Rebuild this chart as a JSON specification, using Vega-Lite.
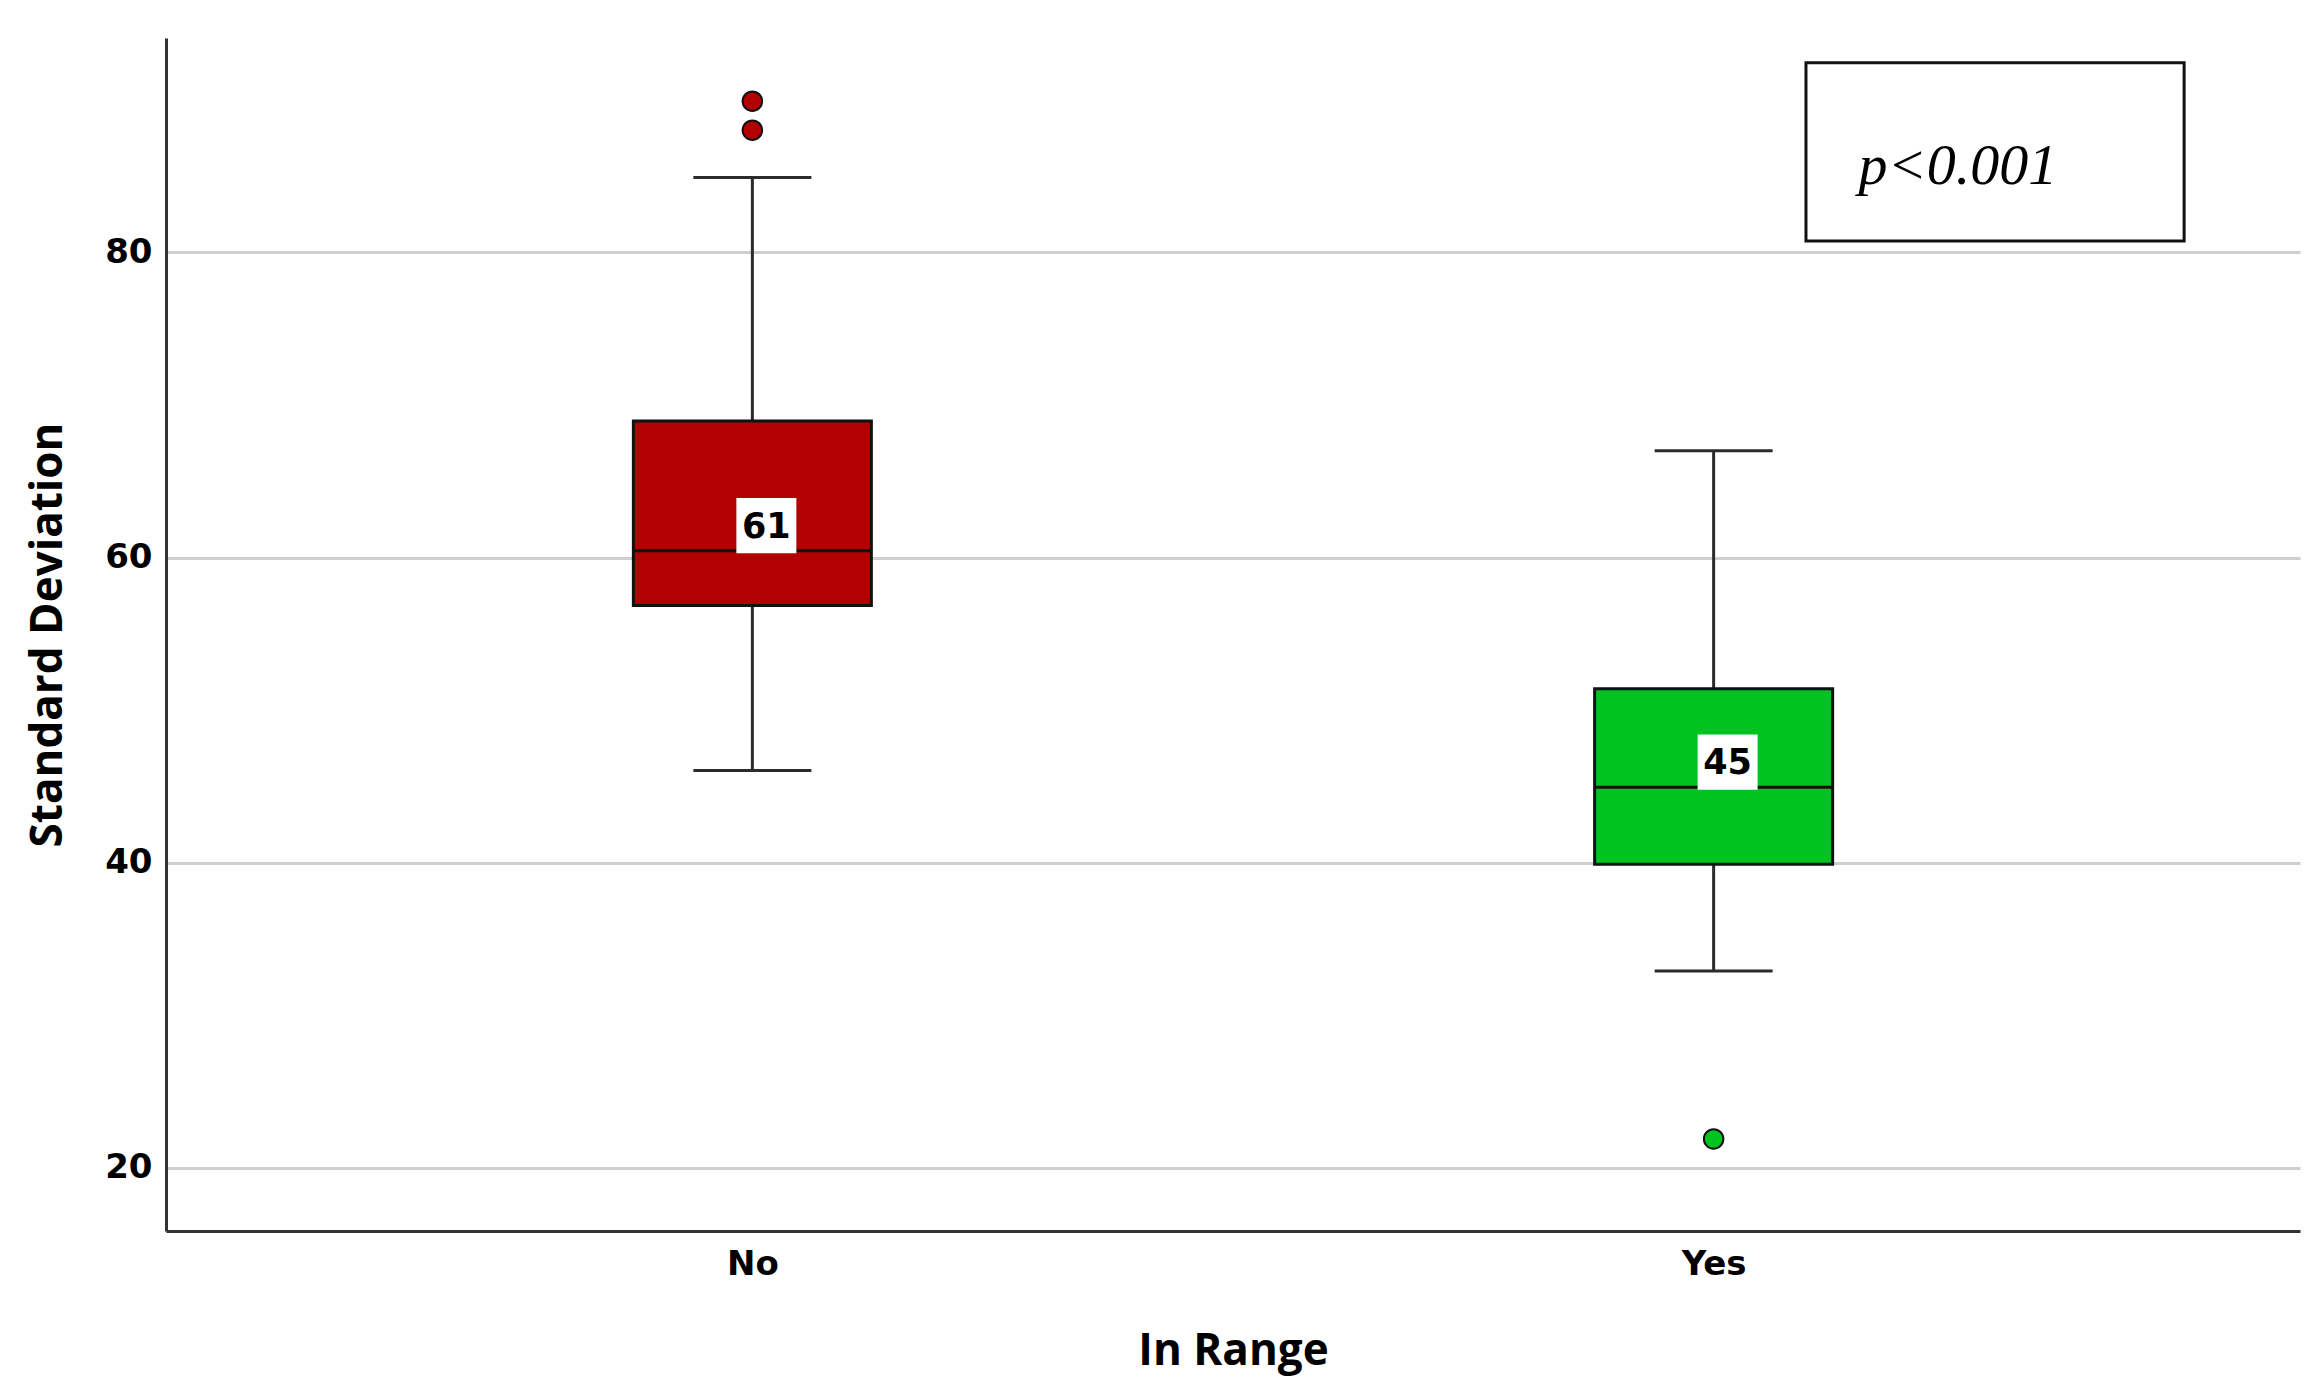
{
  "$schema": "https://vega.github.io/schema/vega-lite/v6.json",
  "width": 2134,
  "height": 1193,
  "autosize": {"type": "none"},
  "padding": {"left": 166, "top": 38, "right": 23, "bottom": 169},
  "background": "white",
  "config": {
    "view": {"stroke": null},
    "axis": {
      "domainColor": "#333333",
      "domainWidth": 3,
      "ticks": false,
      "gridColor": "#CFCFCF",
      "gridWidth": 3,
      "labelFont": "DejaVu Sans",
      "labelFontWeight": "bold",
      "labelFontSize": 34,
      "labelColor": "#000000",
      "titleFont": "Open Sans",
      "titleFontWeight": "bold",
      "titleFontSize": 44,
      "titleColor": "#000000"
    }
  },
  "datasets": {
    "stats": [
      {"group": "No", "lower": 46.05, "q1": 56.85, "median": 60.45, "q3": 68.95, "upper": 84.9, "label": "61"},
      {"group": "Yes", "lower": 32.9, "q1": 39.9, "median": 44.95, "q3": 51.4, "upper": 67.0, "label": "45"}
    ],
    "outliers": [
      {"group": "No", "value": 89.9},
      {"group": "No", "value": 88.0},
      {"group": "Yes", "value": 21.9}
    ],
    "annotation": [
      {"x1": 0.7685, "x2": 0.9457, "y1": 80.74, "y2": 92.42, "xt": 0.8397, "yt": 84.5, "text": "p<0.001"}
    ]
  },
  "layer": [
    {
      "layer": [
        {
          "data": {"name": "stats"},
          "mark": {"type": "rule", "color": "#2b2b2b", "strokeWidth": 3},
          "encoding": {
            "x": {"field": "group", "type": "nominal", "sort": ["No", "Yes"],
                  "scale": {"type": "point", "padding": 0.61},
                  "axis": {"title": "In Range", "labelAngle": 0, "labelPadding": 16, "titlePadding": 48, "grid": false}},
            "y": {"field": "lower", "type": "quantitative",
                  "scale": {"domain": [15.87, 94.04], "nice": false, "zero": false},
                  "axis": {"title": "Standard Deviation", "values": [20, 40, 60, 80], "labelPadding": 14, "titlePadding": 34, "grid": true}},
            "y2": {"field": "upper"}
          }
        },
        {
          "data": {"name": "stats"},
          "mark": {"type": "tick", "color": "#2b2b2b", "thickness": 3, "size": 118, "opacity": 1},
          "encoding": {
            "x": {"field": "group", "type": "nominal", "sort": ["No", "Yes"]},
            "y": {"field": "upper", "type": "quantitative"}
          }
        },
        {
          "data": {"name": "stats"},
          "mark": {"type": "tick", "color": "#2b2b2b", "thickness": 3, "size": 118, "opacity": 1},
          "encoding": {
            "x": {"field": "group", "type": "nominal", "sort": ["No", "Yes"]},
            "y": {"field": "lower", "type": "quantitative"}
          }
        },
        {
          "data": {"name": "stats"},
          "mark": {"type": "bar", "size": 238, "stroke": "#111111", "strokeWidth": 3, "opacity": 1},
          "encoding": {
            "x": {"field": "group", "type": "nominal", "sort": ["No", "Yes"]},
            "y": {"field": "q1", "type": "quantitative"},
            "y2": {"field": "q3"},
            "fill": {"field": "group", "type": "nominal",
                     "scale": {"domain": ["No", "Yes"], "range": ["#B30000", "#00C322"]},
                     "legend": null}
          }
        },
        {
          "data": {"name": "stats"},
          "mark": {"type": "tick", "color": "#111111", "thickness": 3, "size": 238, "opacity": 1},
          "encoding": {
            "x": {"field": "group", "type": "nominal", "sort": ["No", "Yes"]},
            "y": {"field": "median", "type": "quantitative"}
          }
        },
        {
          "data": {"name": "stats"},
          "mark": {"type": "point", "shape": "M-1,-0.92H1V0.92H-1Z", "filled": true, "color": "white", "size": 3600, "opacity": 1, "xOffset": 14, "yOffset": -25},
          "encoding": {
            "x": {"field": "group", "type": "nominal", "sort": ["No", "Yes"]},
            "y": {"field": "median", "type": "quantitative"}
          }
        },
        {
          "data": {"name": "stats"},
          "mark": {"type": "text", "font": "DejaVu Sans", "fontWeight": "bold", "fontSize": 35, "color": "black", "dx": 14, "dy": -24, "align": "center", "baseline": "middle"},
          "encoding": {
            "x": {"field": "group", "type": "nominal", "sort": ["No", "Yes"]},
            "y": {"field": "median", "type": "quantitative"},
            "text": {"field": "label"}
          }
        },
        {
          "data": {"name": "outliers"},
          "mark": {"type": "point", "shape": "circle", "filled": true, "size": 380, "stroke": "#111111", "strokeWidth": 2, "opacity": 1},
          "encoding": {
            "x": {"field": "group", "type": "nominal", "sort": ["No", "Yes"]},
            "y": {"field": "value", "type": "quantitative"},
            "fill": {"field": "group", "type": "nominal", "scale": {"domain": ["No", "Yes"], "range": ["#B30000", "#00C322"]}, "legend": null}
          }
        }
      ]
    },
    {
      "data": {"name": "annotation"},
      "layer": [
        {
          "mark": {"type": "rect", "fill": "white", "stroke": "#111111", "strokeWidth": 3},
          "encoding": {
            "x": {"field": "x1", "type": "quantitative", "scale": {"domain": [0, 1], "nice": false, "zero": true}, "axis": null},
            "x2": {"field": "x2"},
            "y": {"field": "y1", "type": "quantitative"},
            "y2": {"field": "y2"}
          }
        },
        {
          "mark": {"type": "text", "font": "Liberation Serif", "fontStyle": "italic", "fontSize": 58, "color": "black", "align": "center", "baseline": "alphabetic"},
          "encoding": {
            "x": {"field": "xt", "type": "quantitative", "scale": {"domain": [0, 1], "nice": false}, "axis": null},
            "y": {"field": "yt", "type": "quantitative"},
            "text": {"field": "text"}
          }
        }
      ]
    }
  ],
  "resolve": {"scale": {"x": "independent"}, "axis": {"x": "independent"}}
}
